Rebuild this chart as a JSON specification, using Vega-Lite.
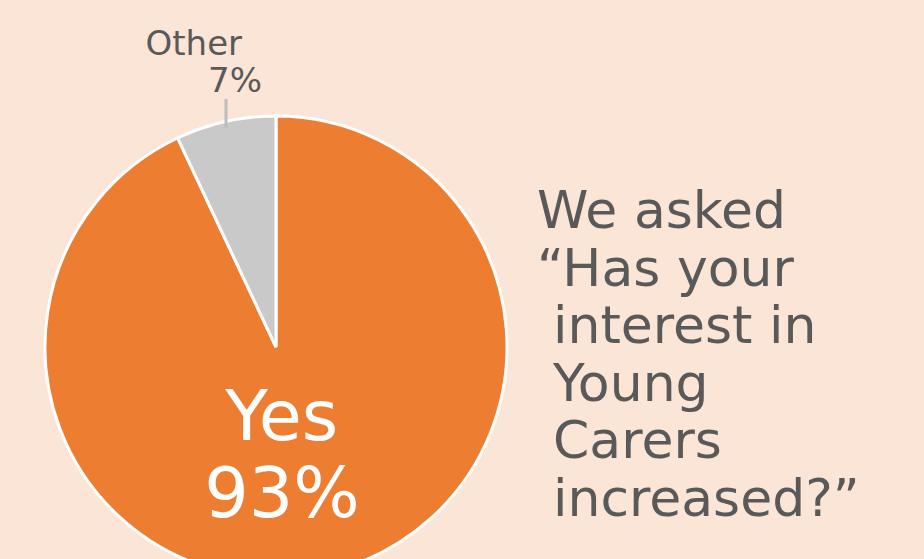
{
  "$schema": "https://vega.github.io/schema/vega-lite/v6.json",
  "width": 924,
  "height": 559,
  "autosize": {"type": "fit", "contains": "padding"},
  "padding": 0,
  "background": "#FBE5D6",
  "config": {"view": {"stroke": null}, "font": "DejaVu Sans"},
  "data": {"values": [
    {"answer": "Yes", "share": 0.93},
    {"answer": "Other", "share": 0.07}
  ]},
  "layer": [
    {
      "mark": {"type": "arc", "x": 276, "y": 347, "outerRadius": 231, "stroke": "#ffffff", "strokeWidth": 3},
      "encoding": {
        "theta": {"field": "share", "type": "quantitative", "stack": true},
        "order": {"field": "answer", "sort": "descending"},
        "color": {"field": "answer", "type": "nominal", "scale": {"domain": ["Yes", "Other"], "range": ["#ED7D31", "#C9C9C9"]}, "legend": null}
      }
    },
    {
      "mark": {"type": "text", "x": 276, "y": 347, "radius": 95, "dx": -15, "fontSize": 70, "color": "#ffffff", "baseline": "alphabetic", "align": "center"},
      "encoding": {
        "theta": {"field": "share", "type": "quantitative", "stack": true},
        "order": {"field": "answer", "sort": "descending"},
        "text": {"condition": {"test": "datum.answer === 'Yes'", "field": "answer"}, "value": ""}
      }
    },
    {
      "mark": {"type": "text", "x": 276, "y": 347, "radius": 174, "dx": -32, "fontSize": 70, "color": "#ffffff", "baseline": "alphabetic", "align": "center"},
      "encoding": {
        "theta": {"field": "share", "type": "quantitative", "stack": true},
        "order": {"field": "answer", "sort": "descending"},
        "text": {"condition": {"test": "datum.answer === 'Yes'", "field": "share", "format": ".0%"}, "value": ""}
      }
    },
    {
      "mark": {"type": "text", "x": 276, "y": 347, "radius": 299, "dx": -17, "fontSize": 34, "color": "#595959", "baseline": "alphabetic", "align": "center"},
      "encoding": {
        "theta": {"field": "share", "type": "quantitative", "stack": true},
        "order": {"field": "answer", "sort": "descending"},
        "text": {"condition": {"test": "datum.answer === 'Other'", "field": "answer"}, "value": ""}
      }
    },
    {
      "mark": {"type": "text", "x": 276, "y": 347, "radius": 261, "dx": 16, "fontSize": 34, "color": "#595959", "baseline": "alphabetic", "align": "center"},
      "encoding": {
        "theta": {"field": "share", "type": "quantitative", "stack": true},
        "order": {"field": "answer", "sort": "descending"},
        "text": {"condition": {"test": "datum.answer === 'Other'", "field": "share", "format": ".0%"}, "value": ""}
      }
    },
    {
      "data": {"values": [{"part": "leader"}]},
      "mark": {"type": "rule", "color": "#BDBDBD", "strokeWidth": 3},
      "encoding": {
        "x": {"value": 226},
        "y": {"value": 99},
        "y2": {"value": 128}
      }
    },
    {
      "data": {"values": [{"part": "question"}]},
      "mark": {
        "type": "text", "x": 537, "y": 228, "align": "left", "baseline": "alphabetic",
        "fontSize": 52, "lineHeight": 57.5, "color": "#595959",
        "text": ["We asked", "“Has your"]
      },
      "encoding": {}
    },
    {
      "data": {"values": [{"part": "question"}]},
      "mark": {
        "type": "text", "x": 553, "y": 343, "align": "left", "baseline": "alphabetic",
        "fontSize": 52, "lineHeight": 57.5, "color": "#595959",
        "text": ["interest in", "Young", "Carers", "increased?”"]
      },
      "encoding": {}
    }
  ]
}
